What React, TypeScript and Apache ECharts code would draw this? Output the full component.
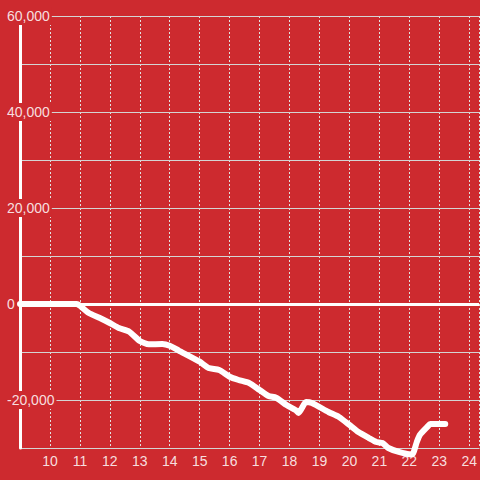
import React, { useEffect, useRef } from "react";
import * as echarts from "echarts";

const hours: number[] = [
  9.0, 10.9, 11.0, 11.3, 11.65, 12.0, 12.3, 12.65, 13.0, 13.3, 13.75, 14.0, 14.3,
  15.0, 15.3, 15.65, 16.0, 16.3, 16.65, 17.0, 17.3, 17.55, 17.9, 18.2, 18.3, 18.55,
  18.75, 19.3, 19.65, 20.0, 20.3, 20.65, 20.9, 21.1, 21.3, 21.65, 22.0, 22.1, 22.25,
  22.35, 22.6, 22.7, 23.2,
];
const values: number[] = [
  0, 0, -350, -1875, -2850, -3960, -5000, -5770, -7700, -8400, -8330, -8690, -9700,
  -12020, -13330, -13750, -15150, -15830, -16460, -17920, -19170, -19520, -21040,
  -22080, -22700, -20420, -20630, -22500, -23540, -25200, -26670, -27920, -28750,
  -28960, -30000, -30830, -31300, -31300, -28750, -27290, -25600, -25000, -25000,
];
const yLabelValues: number[] = [60000, 40000, 20000, 0, -20000];

const BG = "#cd2a2f";
const LABEL = "rgba(255,255,255,0.86)";

export default function App() {
  const ref = useRef<HTMLDivElement>(null);
  useEffect(() => {
    if (!ref.current) return;
    const chart = echarts.init(ref.current, undefined, { renderer: "svg" });
    chart.setOption({
      animation: false,
      backgroundColor: BG,
      textStyle: { fontFamily: "Liberation Sans, Arial, sans-serif" },
      grid: { left: 20, right: 0, top: 16, bottom: 32, containLabel: false },
      xAxis: {
        type: "value",
        min: 9,
        max: 24.33,
        interval: 1,
        axisLine: { show: true, onZero: false, lineStyle: { color: "#d4d4d4", width: 1 } },
        axisTick: { show: false },
        axisLabel: {
          color: LABEL,
          fontSize: 14,
          margin: 6,
          showMaxLabel: false,
          formatter: (v: number) => (v === 9 || v > 24 ? "" : String(v)),
        },
        splitLine: { show: true, lineStyle: { color: "#e2e2e2", type: [2, 2], width: 1 } },
      },
      yAxis: {
        type: "value",
        min: -30000,
        max: 60000,
        interval: 10000,
        z: 3,
        axisLine: { show: true, onZero: false, lineStyle: { color: "#ffffff", width: 3 } },
        axisTick: { show: false },
        axisLabel: {
          margin: 14,
          align: "left",
          verticalAlign: "middle",
          formatter: (v: number) =>
            yLabelValues.indexOf(v) >= 0 ? "{b|" + v.toLocaleString("en-US") + "}" : "",
          rich: {
            b: {
              color: LABEL,
              fontSize: 14,
              backgroundColor: BG,
              padding: [2, 2, 2, 1],
              fontFamily: "Liberation Sans, Arial, sans-serif",
            },
          },
        },
        splitLine: { show: true, lineStyle: { color: "#d4d4d4", width: 1 } },
      },
      series: [
        {
          type: "line",
          data: hours.map((h, i) => [h, values[i]]),
          showSymbol: false,
          symbol: "none",
          smooth: 0.2,
          clip: false,
          z: 5,
          lineStyle: { color: "#ffffff", width: 6, cap: "round", join: "round" },
          markLine: {
            silent: true,
            symbol: "none",
            label: { show: false },
            lineStyle: { color: "#ffffff", width: 3, type: "solid" },
            data: [{ yAxis: 0 }],
          },
        },
      ],
    });
    return () => chart.dispose();
  }, []);
  return (
    <div
      ref={ref}
      style={{ position: "fixed", left: 0, top: 0, width: 480, height: 480 }}
    />
  );
}
